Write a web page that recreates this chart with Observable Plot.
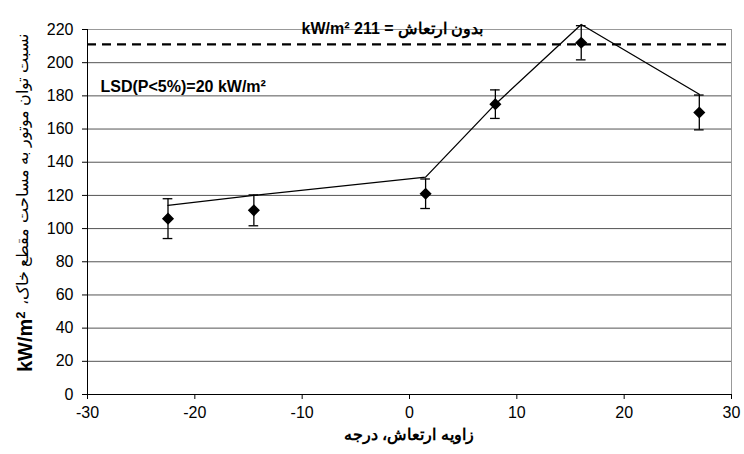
<!DOCTYPE html>
<html><head><meta charset="utf-8">
<script src="https://cdn.jsdelivr.net/npm/d3@7"></script>
<script src="https://cdn.jsdelivr.net/npm/@observablehq/plot@0.6"></script>
<style>html,body{margin:0;padding:0;background:#fff} #chart svg{display:block}</style>
</head><body><div id="chart"></div>
<script>
// Vibration angle (degrees)
const angles = [-22.5, -14.5, 1.5, 8, 16, 27];
// Measured power / soil cross-section (kW/m²), with error half-widths
const measured = [106, 111, 121, 175, 212, 170];
const errors = [12, 9.3, 8.9, 8.6, 10.3, 10.5];
// Connected line values
const fitted = [114, 120, 131, 175, 223, 181];
// Reference without vibration
const baselineValue = [211];
const xTicks = [-30, -20, -10, 0, 10, 20, 30];
const yTicks = [0, 20, 40, 60, 80, 100, 120, 140, 160, 180, 200, 220];
const lsdLabel = ["LSD(P<5%)=20 kW/m²"];
const topLabel = ["kW/m² 211 = بدون ارتعاش"];
const xTitle = "زاویه ارتعاش، درجه";
const yTitleUnit = "kW/m";
const yTitleText = "نسبت توان موتور به مساحت مقطع خاک،\u200F";

const data = angles.map((x, i) => ({x, y: measured[i], e: errors[i], f: fitted[i]}));
const fmt = d => String(d);

const plot = Plot.plot({
  width: 744, height: 454,
  marginLeft: 87, marginRight: 13, marginTop: 29, marginBottom: 60,
  style: {fontFamily: "'Liberation Sans', Arial, sans-serif", fontSize: "16px", background: "white", color: "black", overflow: "visible"},
  x: {domain: [-30, 30]},
  y: {domain: [0, 220]},
  marks: [
    Plot.gridY(yTicks, {stroke: "#555", strokeOpacity: 1}),
    Plot.frame({stroke: "#999"}),
    Plot.ruleY([0], {stroke: "black"}),
    Plot.ruleX([-30], {stroke: "black"}),
    Plot.axisX(xTicks, {tickSize: 5, tickPadding: 7, label: null, fontSize: 16, tickFormat: fmt}),
    Plot.axisY(yTicks, {tickSize: 5, tickPadding: 9, label: null, fontSize: 16, tickFormat: fmt}),
    Plot.ruleY(baselineValue, {stroke: "black", strokeWidth: 2.2, strokeDasharray: "9,6"}),
    Plot.line(data, {x: "x", y: "f", stroke: "black", strokeWidth: 1.3}),
    Plot.ruleX(data, {x: "x", y1: d => d.y - d.e, y2: d => d.y + d.e, stroke: "black", strokeWidth: 1.3}),
    Plot.ruleY(data, {y: d => d.y + d.e, x1: d => d.x - 0.45, x2: d => d.x + 0.45, stroke: "black", strokeWidth: 1.3}),
    Plot.ruleY(data, {y: d => d.y - d.e, x1: d => d.x - 0.45, x2: d => d.x + 0.45, stroke: "black", strokeWidth: 1.3}),
    Plot.dot(data, {x: "x", y: "y", symbol: "diamond2", r: 4.5, fill: "black", stroke: "black"}),
    Plot.text(lsdLabel, {frameAnchor: "top-left", dx: 13, dy: 51, textAnchor: "start", fontWeight: "bold", fontSize: 16}),
    Plot.text(topLabel, {frameAnchor: "top", dx: -17, dy: -7, fontWeight: "bold", fontSize: 16})
  ]
});

document.getElementById("chart").appendChild(plot);

const svg = d3.select(plot);
svg.append("text")
  .attr("x", 409).attr("y", 440)
  .attr("text-anchor", "middle")
  .attr("font-weight", "bold").attr("font-size", 16)
  .attr("fill", "black")
  .text(xTitle);

// y-axis title: bold unit at bottom, Persian text above it
const gUnit = svg.append("g").attr("transform", "translate(32,372) rotate(-90)");
const t1 = gUnit.append("text").attr("text-anchor", "start").attr("font-weight", "bold").attr("font-size", 20).attr("fill", "black");
t1.append("tspan").text(yTitleUnit);
t1.append("tspan").attr("font-size", 13).attr("dy", -7).text("2");

const gText = svg.append("g").attr("transform", "translate(28,372) rotate(-90)");
const t2 = gText.append("text").attr("text-anchor", "start").attr("x", 0).attr("font-size", 16).attr("fill", "black").text(yTitleText);
const bb = t2.node().getBBox();
t2.attr("x", 67 - bb.x);
</script>
</body></html>
